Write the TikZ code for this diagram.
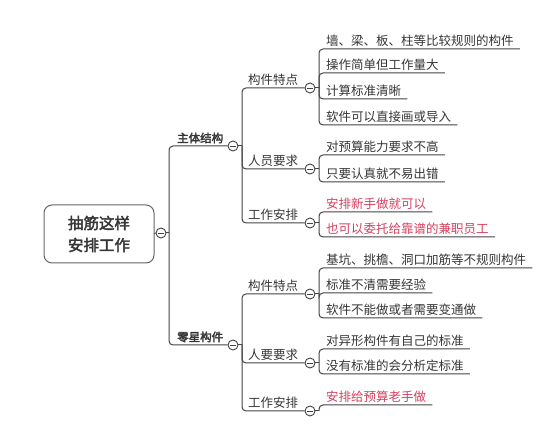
\documentclass[tikz,border=0pt]{standalone}
\usepackage{fontspec}
\setmainfont{Noto Sans CJK SC}[AutoFakeBold=2.5]
\definecolor{linec}{HTML}{444444}
\definecolor{textc}{HTML}{363636}
\definecolor{redc}{HTML}{D6405E}
\definecolor{boxc}{HTML}{666666}
\tikzset{
  conn/.style={draw=linec, line width=1pt},
  dot/.style={circle, draw=linec, fill=white, line width=0.9pt, minimum size=10pt, inner sep=0pt,
    path picture={\draw[linec, line width=0.9pt] ([xshift=-2.6pt]path picture bounding box.center) -- ([xshift=2.6pt]path picture bounding box.center);}},
  leaf/.style={anchor=south west, text=textc, font=\fontsize{12.5}{14}\selectfont, inner xsep=6pt, inner ysep=2.5pt},
  redleaf/.style={leaf, text=redc},
  midlab/.style={anchor=south west, text=textc, font=\fontsize{12.5}{14}\selectfont, inner xsep=6pt, inner ysep=2.5pt},
  toplab/.style={anchor=south west, text=textc, font=\fontsize{11.5}{14}\selectfont\bfseries, inner xsep=8pt, inner ysep=2.5pt},
  rootbox/.style={draw=boxc, line width=1pt, rounded corners=8pt, minimum width=110pt, minimum height=58pt,
    align=center, text=textc, font=\fontsize{15.5}{22}\selectfont\bfseries, fill=white},
}
\begin{document}
\begin{tikzpicture}[x=1pt,y=-1pt]
\useasboundingbox (0,0) rectangle (560,430);
\fill[white] (0,0) rectangle (560,430);

% root
\node[rootbox] (root) at (99,234) {抽筋这样\\安排工作};
\node[dot] (c0) at (161,233) {};
\coordinate (j0) at (169,233);
\draw[conn] (root.east) -- (c0.west);
\draw[conn] (c0.east) -- (j0);

% top level
\node[dot] (cm) at (233,146) {};
\node[dot] (cz) at (233,345) {};
\node[toplab] (tm) at (169,146) {主体结构};
\node[toplab] (tz) at (169,345) {零星构件};
\draw[conn, rounded corners=4pt] (j0) |- (cm.west);
\draw[conn, rounded corners=4pt] (j0) |- (cz.west);
\coordinate (jm) at (242,146);
\coordinate (jz) at (242,345);
\draw[conn] (cm.east) -- (jm);
\draw[conn] (cz.east) -- (jz);

% second level (main)
\node[dot] (c1) at (310,88) {};
\node[dot] (c2) at (310,169) {};
\node[dot] (c3) at (310,223) {};
\node[midlab] (m1) at (242,88) {构件特点};
\node[midlab] (m2) at (242,169) {人员要求};
\node[midlab] (m3) at (242,223) {工作安排};
\foreach \c in {c1,c2,c3} \draw[conn, rounded corners=4pt] (jm) |- (\c.west);

% second level (scattered)
\node[dot] (c4) at (310,294) {};
\node[dot] (c5) at (310,363) {};
\node[dot] (c6) at (310,411) {};
\node[midlab] (m4) at (242,294) {构件特点};
\node[midlab] (m5) at (242,363) {人要要求};
\node[midlab] (m6) at (242,411) {工作安排};
\foreach \c in {c4,c5,c6} \draw[conn, rounded corners=4pt] (jz) |- (\c.west);

% junctions
\coordinate (j1) at (319,88);
\coordinate (j2) at (319,169);
\coordinate (j3) at (319,223);
\coordinate (j4) at (319,294);
\coordinate (j5) at (319,363);
\coordinate (j6) at (319,411);
\foreach \i in {1,...,6} \draw[conn] (c\i.east) -- (j\i);

% leaves
\node[leaf] (l11) at (320,49) {墙、梁、板、柱等比较规则的构件};
\node[leaf] (l12) at (320,73) {操作简单但工作量大};
\node[leaf] (l13) at (320,99) {计算标准清晰};
\node[leaf] (l14) at (320,125) {软件可以直接画或导入};
\node[leaf] (l21) at (320,155) {对预算能力要求不高};
\node[leaf] (l22) at (320,182) {只要认真就不易出错};
\node[redleaf] (l31) at (320,212) {安排新手做就可以};
\node[redleaf] (l32) at (320,237) {也可以委托给靠谱的兼职员工};
\node[leaf] (l41) at (320,268) {基坑、挑檐、洞口加筋等不规则构件};
\node[leaf] (l42) at (320,293) {标准不清需要经验};
\node[leaf] (l43) at (320,318) {软件不能做或者需要变通做};
\node[leaf] (l51) at (320,349) {对异形构件有自己的标准};
\node[leaf] (l52) at (320,374) {没有标准的会分析定标准};
\node[redleaf] (l61) at (320,405) {安排给预算老手做};

\foreach \j/\l in {j1/l11,j1/l12,j1/l13,j1/l14,j2/l21,j2/l22,j3/l31,j3/l32,j4/l41,j4/l42,j4/l43,j5/l51,j5/l52,j6/l61}
  \draw[conn, rounded corners=4pt] (\j) |- (\l.south east);
\end{tikzpicture}
\end{document}
